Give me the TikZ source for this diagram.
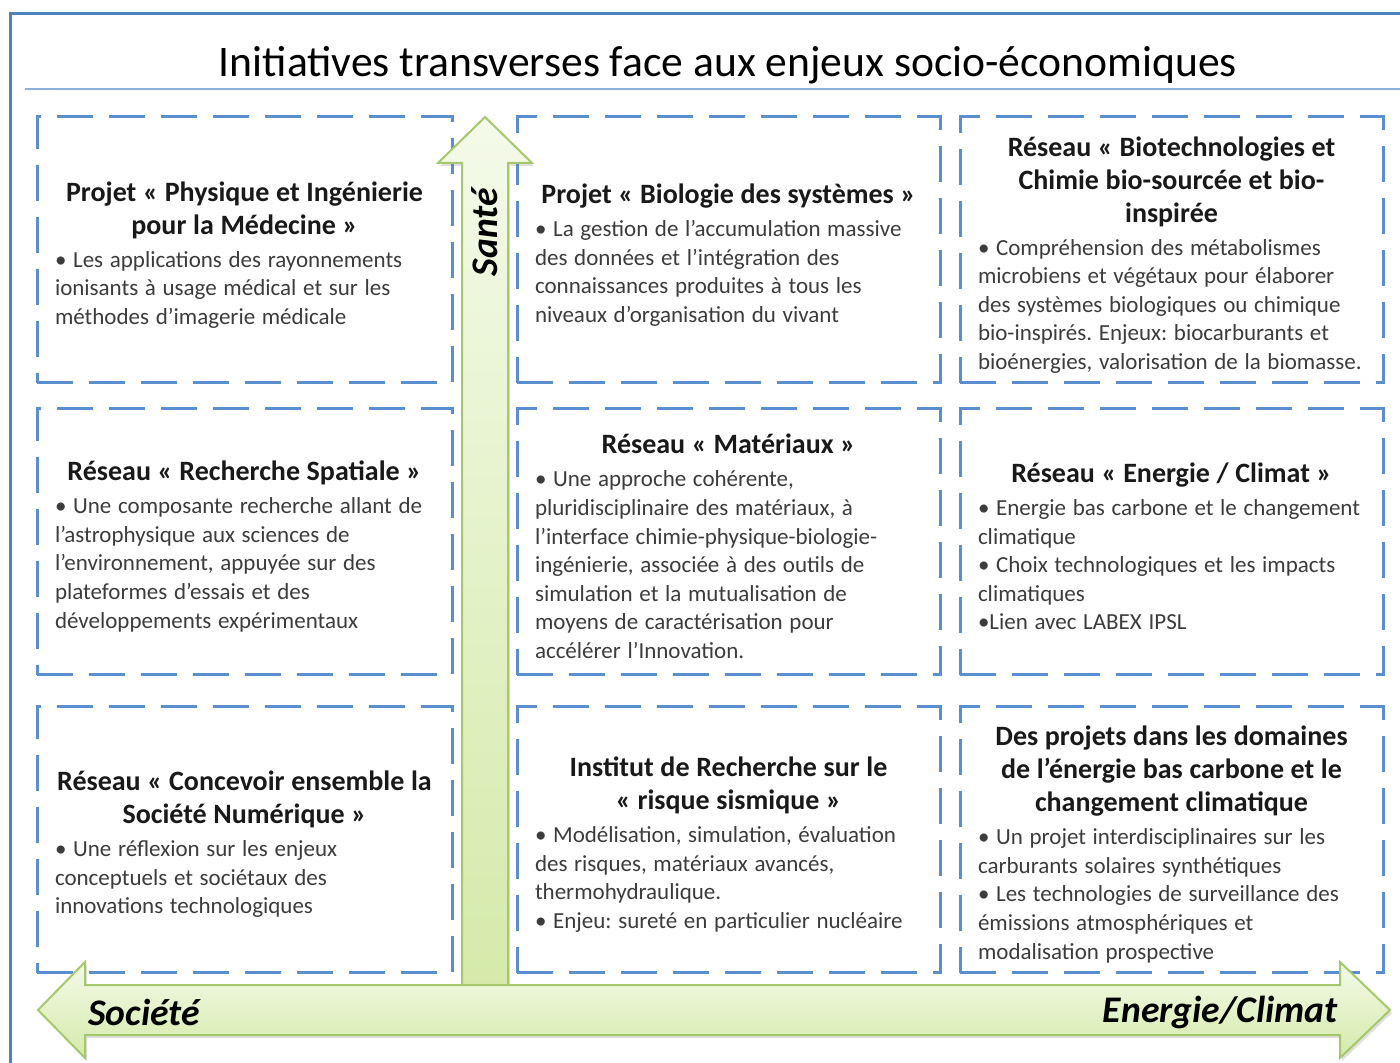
\documentclass[tikz,border=0pt]{standalone}
\usepackage{fontspec}
\setmainfont{Carlito}
\usetikzlibrary{shadows}
\definecolor{frameblue}{HTML}{4F81BD}
\definecolor{lineblue}{HTML}{8DB0DB}
\definecolor{dashblue}{HTML}{5B8ECF}
\definecolor{arrowline}{HTML}{A5C86C}
\definecolor{arrowlight}{HTML}{F4FAE9}
\definecolor{arrowdark}{HTML}{D4EAA9}
\definecolor{textgray}{HTML}{3C3C3C}
\frenchspacing
\newcommand\HeadFont{\bfseries\fontsize{14}{16.5}\selectfont\color{black!90}}
\newcommand\BodyFont{\fontsize{11.5}{14.3}\selectfont\color{textgray}}
\newcommand\HeadLine[1]{\hbox to\hsize{\hss#1\hss}}
\newcommand\TextLine[1]{\hbox to\hsize{#1\hss}}
\newcommand\CellText[2]{\vbox{\vskip5pt{\HeadFont#1}\vspace{2.2pt}{\BodyFont#2}}}

\begin{document}
\begin{tikzpicture}[x=0.5pt,y=-0.5pt,
		cell/.style={draw=dashblue,line width=1.5pt,dash pattern=on 18pt off 8pt,
			fill=white,inner sep=0pt,minimum height=133pt},
		narrow/.style={minimum width=207.5pt,text width=189.5pt},
		wide/.style={minimum width=211.5pt,text width=193.5pt},
		axis/.style={draw=arrowline,line width=1pt,top color=arrowlight,bottom color=arrowdark,
			drop shadow={shadow xshift=1pt,shadow yshift=-1.5pt,opacity=0.25}},
		axislabel/.style={font=\fontsize{18.8}{22}\selectfont\bfseries\itshape,inner sep=0pt}]
		
		% the page and the outer frame
		\clip (0,0) rectangle (1400,1063);
		\fill[white] (0,0) rectangle (1400,1063);
		\draw[frameblue,line width=1.5pt] (10,14) rectangle (1430,1100);
		
		% the title and the line below it
		\node[font=\fontsize{21.8}{26}\selectfont] (titre) at (728,65)
		{Initiatives transverses face aux enjeux socio-économiques};
		\draw[lineblue,line width=1pt] (25,89) -- (1420,89);
		
		% first row of boxes
		\node[cell,narrow] (cell11) at (244.5,250) {\CellText{
				\HeadLine{Projet « Physique et Ingénierie}
				\HeadLine{pour la Médecine »}}{
				\TextLine{• Les applications des rayonnements}
				\TextLine{ionisants à usage médical et sur les}
				\TextLine{méthodes d’imagerie médicale}}
		};
		\node[cell,wide] (cell12) at (728.5,250) {\CellText{
				\HeadLine{Projet « Biologie des systèmes »}}{
				\TextLine{• La gestion de l’accumulation massive}
				\TextLine{des données et l’intégration des}
				\TextLine{connaissances produites à tous les}
				\TextLine{niveaux d’organisation du vivant}}
		};
		\node[cell,wide] (cell13) at (1171.5,250) {\CellText{
				\HeadLine{Réseau « Biotechnologies et}
				\HeadLine{Chimie bio-sourcée et bio-}
				\HeadLine{inspirée}}{
				\TextLine{• Compréhension des métabolismes}
				\TextLine{microbiens et végétaux pour élaborer}
				\TextLine{des systèmes biologiques ou chimique}
				\TextLine{bio-inspirés. Enjeux: biocarburants et}
				\TextLine{bioénergies, valorisation de la biomasse.}}
		};
		
		% second row of boxes
		\node[cell,narrow] (cell21) at (244.5,541.5) {\CellText{
				\HeadLine{Réseau « Recherche Spatiale »}}{
				\TextLine{• Une composante recherche allant de}
				\TextLine{l’astrophysique aux sciences de}
				\TextLine{l’environnement, appuyée sur des}
				\TextLine{plateformes d’essais et des}
				\TextLine{développements expérimentaux}}
		};
		\node[cell,wide] (cell22) at (728.5,541.5) {\CellText{
				\HeadLine{Réseau « Matériaux »}}{
				\TextLine{• Une approche cohérente,}
				\TextLine{pluridisciplinaire des matériaux, à}
				\TextLine{l’interface chimie-physique-biologie-}
				\TextLine{ingénierie, associée à des outils de}
				\TextLine{simulation et la mutualisation de}
				\TextLine{moyens de caractérisation pour}
				\TextLine{accélérer l’Innovation.}}
		};
		\node[cell,wide] (cell23) at (1171.5,541.5) {\CellText{
				\HeadLine{Réseau « Energie / Climat »}}{
				\TextLine{• Energie bas carbone et le changement}
				\TextLine{climatique}
				\TextLine{• Choix technologiques et les impacts}
				\TextLine{climatiques}
				\TextLine{•Lien avec LABEX IPSL}}
		};
		
		% third row of boxes
		\node[cell,narrow] (cell31) at (244.5,839.5) {\CellText{
				\HeadLine{Réseau « Concevoir ensemble la}
				\HeadLine{Société Numérique »}}{
				\TextLine{• Une réflexion sur les enjeux}
				\TextLine{conceptuels et sociétaux des}
				\TextLine{innovations technologiques}}
		};
		\node[cell,wide] (cell32) at (728.5,839.5) {\CellText{
				\HeadLine{Institut de Recherche sur le}
				\HeadLine{« risque sismique »}}{
				\TextLine{• Modélisation, simulation, évaluation}
				\TextLine{des risques, matériaux avancés,}
				\TextLine{thermohydraulique.}
				\TextLine{• Enjeu: sureté en particulier nucléaire}}
		};
		\node[cell,wide] (cell33) at (1171.5,839.5) {\CellText{
				\HeadLine{Des projets dans les domaines}
				\HeadLine{de l’énergie bas carbone et le}
				\HeadLine{changement climatique}}{
				\TextLine{• Un projet interdisciplinaires sur les}
				\TextLine{carburants solaires synthétiques}
				\TextLine{• Les technologies de surveillance des}
				\TextLine{émissions atmosphériques et}
				\TextLine{modalisation prospective}}
		};
		
		% the vertical arrow
		\path[axis] (462,1000) -- (462,163) -- (438,163) -- (485,117)
		-- (532,163) -- (508,163) -- (508,1000) -- cycle;
		% the horizontal double arrow
		\path[axis] (38,1010) -- (85,962) -- (85,985) -- (1340,985) -- (1340,962)
		-- (1390,1010) -- (1340,1058) -- (1340,1035) -- (85,1035) -- (85,1058) -- cycle;
		
		% the labels of the arrows
		\node[axislabel,rotate=90] (sante) at (485,232) {Santé};
		\node[axislabel,anchor=west] (societe) at (88,1012) {Société};
		\node[axislabel,anchor=east] (energie) at (1338,1012) {Energie/Climat};
	\end{tikzpicture}
\end{document}
